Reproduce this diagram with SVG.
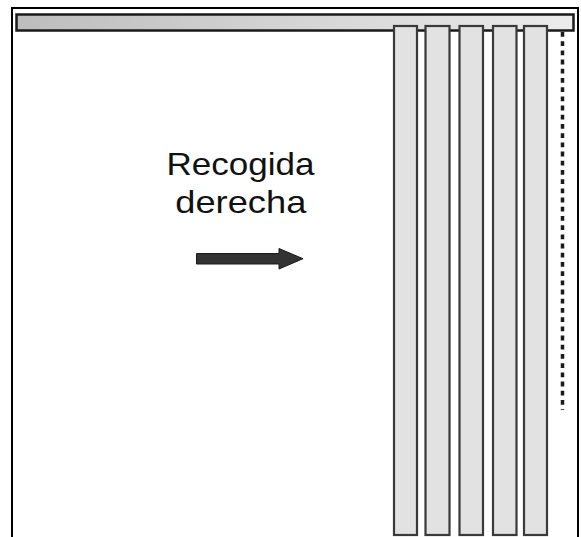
<svg xmlns="http://www.w3.org/2000/svg" width="581" height="537" viewBox="0 0 581 537">
<defs>
<linearGradient id="railG" x1="0" y1="0" x2="1" y2="0">
<stop offset="0" stop-color="#bdbdbd"/>
<stop offset="1" stop-color="#ececec"/>
</linearGradient>
<style>
.slat{fill:#e2e2e2;stroke:#3a3a3a;stroke-width:2.2}
.lbl{font-family:"Liberation Sans",Arial,sans-serif;font-size:32px;fill:#111;text-anchor:middle}
</style>
</defs>
<rect x="0" y="0" width="581" height="537" fill="#ffffff"/>
<rect x="12" y="8" width="566" height="540" fill="none" stroke="#000" stroke-width="2"/>
<g id="rail">
<rect x="16.5" y="14.5" width="557" height="16" fill="url(#railG)" stroke="#1a1a1a" stroke-width="2.5"/>
</g>
<g id="slats">
<rect class="slat" x="394" y="26" width="23" height="509"/>
<rect class="slat" x="425.5" y="26" width="24" height="509"/>
<rect class="slat" x="459.5" y="26" width="23.5" height="509"/>
<rect class="slat" x="493" y="26" width="23.5" height="509"/>
<rect class="slat" x="524" y="26" width="23" height="509"/>
</g>
<g id="cord">
<line x1="562.5" y1="32" x2="562.5" y2="410" stroke="#1a1a1a" stroke-width="3.5" stroke-dasharray="4.8 4.4"/>
</g>
<g id="label">
<text class="lbl" x="240.5" y="175" textLength="148" lengthAdjust="spacingAndGlyphs">Recogida</text>
<text class="lbl" x="240.8" y="213" textLength="131" lengthAdjust="spacingAndGlyphs">derecha</text>
</g>
<g id="connectors">
<path d="M196.5,253.5 H279 V248.5 L303,258.7 L279,269 V264 H196.5 Z" fill="#333" stroke="#1a1a1a" stroke-width="1"/>
</g>
</svg>
